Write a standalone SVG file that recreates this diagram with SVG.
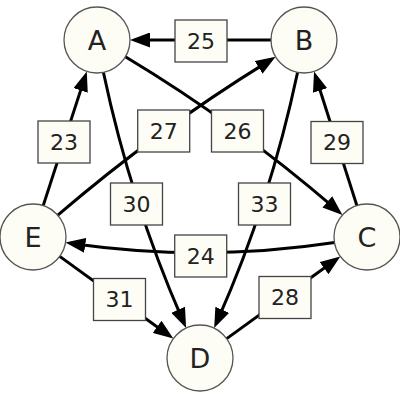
<svg xmlns="http://www.w3.org/2000/svg" width="400" height="400" viewBox="0 0 400 400">
<defs>
<marker id="ah" viewBox="0 0 20 15" refX="10" refY="7.5" markerWidth="20" markerHeight="15" markerUnits="userSpaceOnUse" orient="auto">
<path d="M0,0 L20,7.5 L0,15 z" fill="#000"/>
</marker>
<style>
.e{fill:none;stroke:#000;stroke-width:3;marker-end:url(#ah)}
.n circle{fill:#fdfdf5;stroke:#555;stroke-width:1.3}
.n text{font-family:"DejaVu Sans",sans-serif;font-size:27px;fill:#222;text-anchor:middle}
.l rect{fill:#fdfdf5;stroke:#444;stroke-width:1.3}
.l text{font-family:"DejaVu Sans",sans-serif;font-size:22px;fill:#222;text-anchor:middle}
</style>
</defs>
<rect width="400" height="400" fill="#fff"/>
<g id="edges">
<path class="e" d="M271,40 L140,40"/>
<path class="e" d="M43.2,205.6 L83.7,80.9"/>
<path class="e" d="M356.9,205.6 L317.1,81"/>
<path class="e" d="M59.7,256.4 L165.2,332.7"/>
<path class="e" d="M226.7,338.6 L332.2,262.3"/>
<path class="e" d="M103.4,72.3 Q130.8,201.6 182.1,318.9"/>
<path class="e" d="M297.6,72.3 Q270.2,201.6 218.2,318.9"/>
<path class="e" d="M57.8,215.2 Q156.5,130.3 267.1,62.1"/>
<path class="e" d="M125.4,56.7 Q236.7,123.6 334.9,208.4"/>
<path class="e" d="M334.6,242.5 Q204.9,262.2 75.3,244"/>
</g>
<g id="edge-labels">
<g class="l" id="l25"><rect x="175" y="20" width="52" height="42"/><text x="201" y="48.5">25</text></g>
<g class="l" id="l23"><rect x="38" y="121" width="52" height="42"/><text x="64" y="149.5">23</text></g>
<g class="l" id="l27"><rect x="137.7" y="110" width="52" height="42"/><text x="163.7" y="138.5">27</text></g>
<g class="l" id="l26"><rect x="211.5" y="110" width="52" height="42"/><text x="237.5" y="138.5">26</text></g>
<g class="l" id="l29"><rect x="311" y="121.5" width="52" height="42"/><text x="337" y="150">29</text></g>
<g class="l" id="l30"><rect x="110.5" y="183" width="52" height="42"/><text x="136.5" y="211.5">30</text></g>
<g class="l" id="l33"><rect x="238.5" y="183" width="52" height="42"/><text x="264.5" y="211.5">33</text></g>
<g class="l" id="l24"><rect x="174.7" y="235" width="52" height="42"/><text x="200.7" y="263.5">24</text></g>
<g class="l" id="l31"><rect x="93.5" y="278.5" width="52" height="42"/><text x="119.5" y="307">31</text></g>
<g class="l" id="l28"><rect x="259" y="276.5" width="52" height="42"/><text x="285" y="305">28</text></g>
</g>
<g class="n" id="A"><circle cx="97" cy="40" r="33"/><text x="97" y="49.8">A</text></g>
<g class="n" id="B"><circle cx="304" cy="40" r="33"/><text x="304" y="49.8">B</text></g>
<g class="n" id="C"><circle cx="367" cy="237" r="33"/><text x="367" y="246.8">C</text></g>
<g class="n" id="D"><circle cx="200" cy="358" r="33"/><text x="200" y="367.8">D</text></g>
<g class="n" id="E"><circle cx="33" cy="237" r="33"/><text x="33" y="246.8">E</text></g>
</svg>
